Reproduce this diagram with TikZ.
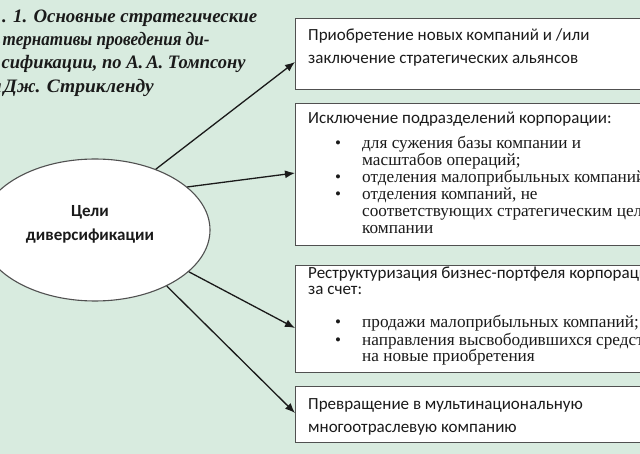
\documentclass[tikz,border=0pt]{standalone}
\usepackage{fontspec}
\usepackage{graphicx}
\setmainfont{Liberation Serif}
\setsansfont{Carlito}
\usetikzlibrary{shapes.geometric,arrows.meta,calc}
\definecolor{bg}{HTML}{D8EBDF}
\definecolor{edge}{HTML}{505050}
\definecolor{ink}{HTML}{1A1A1A}
\tikzset{
  box/.style={draw=edge, line width=1.1pt, fill=white, anchor=north west, minimum width=420pt, inner sep=0pt},
  sanst/.style={anchor=base west, inner sep=0pt, text=ink, font=\sffamily\fontsize{17}{20}\selectfont},
  sert/.style={anchor=base west, inner sep=0pt, text=ink, font=\rmfamily\fontsize{17.2}{17}\selectfont},
  bul/.style={anchor=base, inner sep=0pt, text=ink, font=\rmfamily\fontsize{17}{17}\selectfont},
  titlet/.style={anchor=base west, inner sep=0pt, text=ink, font=\rmfamily\bfseries\itshape\fontsize{19}{23}\selectfont},
  arr/.style={draw=ink, line width=1.3pt, -{Latex[length=10pt,width=8pt]}},
}
\begin{document}
\begin{tikzpicture}[x=1pt,y=-1pt]
\useasboundingbox (0,0) rectangle (640,454);
\clip (0,0) rectangle (640,454);
\fill[bg] (0,0) rectangle (640,454);
% title
\node[titlet] (t1) at (2,23) {\llap{Рис\kern2.5pt}\resizebox{255pt}{\height}{. 1. Основные стратегические}};
\node[titlet] (t2) at (2.5,46) {\llap{аль\kern2pt}\resizebox{207pt}{\height}{тернативы проведения ди-}};
\node[titlet] (t3) at (1.5,69) {\llap{вер\kern2pt}\resizebox{244pt}{\height}{сификации, по А.\,А. Томпсону}};
\node[titlet] (t4) at (3.5,93) {\llap{и\hspace{2pt}}\resizebox{150pt}{\height}{Дж. Стрикленду}};
% ellipse
\node[ellipse, draw=edge, line width=1.1pt, fill=white, minimum width=230pt, minimum height=142pt, inner sep=0pt] (ell) at (95,230) {};
\node[anchor=base, inner sep=0pt, text=ink, font=\sffamily\bfseries\fontsize{17}{20}\selectfont] (e1) at (90,217) {Цели};
\node[anchor=base, inner sep=0pt, text=ink, font=\sffamily\bfseries\fontsize{17}{20}\selectfont] (e2) at (90,241) {диверсификации};
% boxes
\node[box, minimum height=71pt] (b1) at (295,18) {};
\node[box, minimum height=142pt] (b2) at (295,103) {};
\node[box, minimum height=107pt] (b3) at (295,265) {};
\node[box, minimum height=56pt] (b4) at (295,386) {};
% box 1
\node[sanst] (a1) at (308,41) {Приобретение новых компаний и /или};
\node[sanst] (a2) at (308,64) {заключение стратегических альянсов};
% box 2
\node[sanst] (c0) at (308,124) {Исключение подразделений корпорации:};
\node[bul] (cb1) at (338,149) {\textbullet};
\node[sert] (c1) at (362,149) {для сужения базы компании и};
\node[sert] (c2) at (362,166) {масштабов операций;};
\node[bul] (cb2) at (338,183) {\textbullet};
\node[sert] (c3) at (362,183) {отделения малоприбыльных компаний;};
\node[bul] (cb3) at (338,200) {\textbullet};
\node[sert] (c4) at (362,200) {отделения компаний, не};
\node[sert] (c5) at (362,217) {соответствующих стратегическим целям};
\node[sert] (c6) at (362,234) {компании};
% box 3
\node[sanst] (d0) at (308,279) {Реструктуризация бизнес-портфеля корпорации};
\node[sanst] (d1) at (308,295) {за счет:};
\node[bul] (db1) at (338,328) {\textbullet};
\node[sert] (d2) at (362,328) {продажи малоприбыльных компаний;};
\node[bul] (db2) at (338,345) {\textbullet};
\node[sert] (d3) at (362,345) {направления высвободившихся средств};
\node[sert] (d4) at (362,361) {на новые приобретения};
% box 4
\node[sanst] (f1) at (308,409) {Превращение в мультинациональную};
\node[sanst] (f2) at (308,432) {многоотраслевую компанию};
% arrows
\draw[arr] (ell.45) -- ($(b1.north west)+(0,44)$);
\draw[arr] (ell.25.5) -- ($(b2.north west)+(0,70)$);
\draw[arr] (ell.-24) -- ($(b3.north west)+(0,63)$);
\draw[arr] (ell.-38) -- ($(b4.north west)+(0,27)$);
\end{tikzpicture}
\end{document}
